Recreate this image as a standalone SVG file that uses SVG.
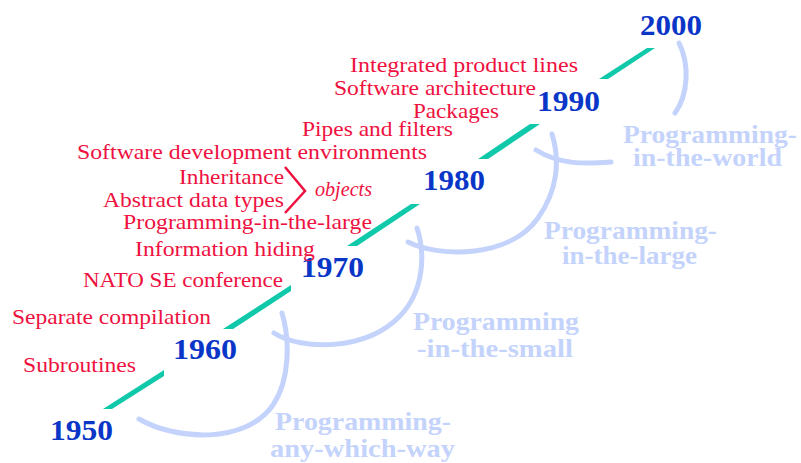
<svg xmlns="http://www.w3.org/2000/svg" width="801" height="463" viewBox="0 0 801 463">
<style>
.yr{font-family:"Liberation Serif","Times New Roman",serif;font-weight:bold;font-size:30px;fill:#0a36c8}
.ev{font-family:"Liberation Serif","Times New Roman",serif;font-size:22px;fill:#ee1140}
.obj{font-family:"Liberation Serif","Times New Roman",serif;font-style:italic;font-size:20px;fill:#ee1140}
.era{font-family:"Liberation Serif","Times New Roman",serif;font-weight:bold;font-size:26px;fill:#c4d3fb}
.arc{fill:none;stroke:#c4d3fb;stroke-width:5;stroke-linecap:round}
.seg{fill:#10c8aa}
</style>
<rect width="801" height="463" fill="#ffffff"/>
<g id="connectors">
<polygon class="seg" points="103,409 112,409 164,376 164,370"/>
<polygon class="seg" points="223,329 233,329 291,291 291,285"/>
<polygon class="seg" points="347,246 357,246 420,204 411,204"/>
<polygon class="seg" points="478,159 488,159 540,124 530,124"/>
<polygon class="seg" points="599,79 608,79 655,48 647,48"/>
<path class="arc" d="M139,419 C175,440 245,445 273,405 C290,380 290,340 282,313"/>
<path class="arc" d="M274,333 C300,350 365,352 400,316 C425,290 425,252 417,228"/>
<path class="arc" d="M408,242 C440,258 510,258 538,218 C558,190 560,160 552,134"/>
<path class="arc" d="M536,150 C560,165 585,164 611,162"/>
<path class="arc" d="M679,43 C690,65 688,95 675,113"/>
<path d="M285,167 L305,191 L285,213" fill="none" stroke="#ee1140" stroke-width="2.5"/>
</g>
<g id="y1950"><text class="yr" x="50" y="440" textLength="63" lengthAdjust="spacingAndGlyphs">1950</text></g>
<g id="y1960"><text class="yr" x="173" y="359" textLength="64" lengthAdjust="spacingAndGlyphs">1960</text></g>
<g id="y1970"><text class="yr" x="301" y="277" textLength="63" lengthAdjust="spacingAndGlyphs">1970</text></g>
<g id="y1980"><text class="yr" x="423" y="190" textLength="62" lengthAdjust="spacingAndGlyphs">1980</text></g>
<g id="y1990"><text class="yr" x="537" y="111" textLength="63" lengthAdjust="spacingAndGlyphs">1990</text></g>
<g id="y2000"><text class="yr" x="640" y="35" textLength="62" lengthAdjust="spacingAndGlyphs">2000</text></g>
<g id="events">
<text class="ev" x="350" y="72" textLength="228" lengthAdjust="spacingAndGlyphs">Integrated product lines</text>
<text class="ev" x="334" y="95" textLength="202" lengthAdjust="spacingAndGlyphs">Software architecture</text>
<text class="ev" x="413" y="118" textLength="86" lengthAdjust="spacingAndGlyphs">Packages</text>
<text class="ev" x="302" y="136" textLength="151" lengthAdjust="spacingAndGlyphs">Pipes and filters</text>
<text class="ev" x="77" y="159" textLength="350" lengthAdjust="spacingAndGlyphs">Software development environments</text>
<text class="ev" x="179" y="184" textLength="105" lengthAdjust="spacingAndGlyphs">Inheritance</text>
<text class="ev" x="103" y="207" textLength="181" lengthAdjust="spacingAndGlyphs">Abstract data types</text>
<text class="obj" x="315" y="196" textLength="57" lengthAdjust="spacingAndGlyphs">objects</text>
<text class="ev" x="123" y="229" textLength="249" lengthAdjust="spacingAndGlyphs">Programming-in-the-large</text>
<text class="ev" x="135" y="256" textLength="180" lengthAdjust="spacingAndGlyphs">Information hiding</text>
<text class="ev" x="83" y="287" textLength="200" lengthAdjust="spacingAndGlyphs">NATO SE conference</text>
<text class="ev" x="12" y="324" textLength="199" lengthAdjust="spacingAndGlyphs">Separate compilation</text>
<text class="ev" x="23" y="372" textLength="113" lengthAdjust="spacingAndGlyphs">Subroutines</text>
</g>
<g id="era-world">
<text class="era" x="623" y="143" textLength="174" lengthAdjust="spacingAndGlyphs">Programming-</text>
<text class="era" x="633" y="166" textLength="149" lengthAdjust="spacingAndGlyphs">in-the-world</text>
</g>
<g id="era-large">
<text class="era" x="544" y="239" textLength="173" lengthAdjust="spacingAndGlyphs">Programming-</text>
<text class="era" x="562" y="264" textLength="135" lengthAdjust="spacingAndGlyphs">in-the-large</text>
</g>
<g id="era-small">
<text class="era" x="413" y="330" textLength="166" lengthAdjust="spacingAndGlyphs">Programming</text>
<text class="era" x="417" y="357" textLength="156" lengthAdjust="spacingAndGlyphs">-in-the-small</text>
</g>
<g id="era-any">
<text class="era" x="275" y="430" textLength="176" lengthAdjust="spacingAndGlyphs">Programming-</text>
<text class="era" x="270" y="457" textLength="185" lengthAdjust="spacingAndGlyphs">any-which-way</text>
</g>
</svg>
